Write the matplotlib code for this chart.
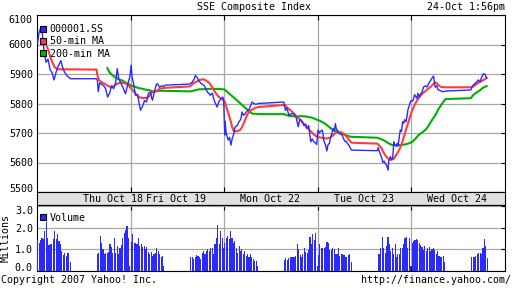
import matplotlib
matplotlib.use("Agg")
import matplotlib.pyplot as plt
from matplotlib.lines import Line2D

plt.rcParams['font.family'] = ['DejaVu Sans Mono', 'DejaVu Sans']
plt.rcParams['font.size'] = 7.2

# ---------------- data ----------------
# time axis: minutes since Thu 18 Oct 9:30, each trading day = 330 min (9:30-15:00 incl. lunch)
DAY_MIN = 330
day_labels = ["Thu Oct 18", "Fri Oct 19", "Mon Oct 22", "Tue Oct 23", "Wed Oct 24"]
day_label_t = [268, 490, 823, 1154, 1481]

price_t = [2, 7, 14, 19, 25, 32, 39, 46, 53, 60, 67, 74, 84, 91, 98, 105, 118, 210, 213, 216,
           221, 228, 235, 242, 249, 256, 263, 270, 277, 283, 288, 295, 305, 312, 319, 328, 332, 335, 340, 347,
           355, 360, 365, 372, 379, 386, 393, 400, 404, 407, 414, 421, 425, 432, 439, 446, 452, 538, 548, 555,
           558, 565, 572, 579, 590, 600, 611, 618, 625, 635, 642, 649, 655, 658, 662, 663, 667, 674, 679, 684,
           688, 695, 698, 706, 713, 718, 723, 728, 734, 741, 748, 758, 765, 772, 780, 870, 873, 876, 881, 888,
           895, 906, 913, 921, 926, 930, 934, 941, 948, 951, 958, 962, 965, 970, 976, 983, 986, 991, 996, 999,
           1005, 1008, 1011, 1017, 1022, 1026, 1031, 1035, 1040, 1044, 1048, 1052, 1055, 1059, 1064, 1071, 1075, 1081, 1087, 1091,
           1094, 1099, 1105, 1110, 1200, 1203, 1206, 1210, 1216, 1219, 1224, 1227, 1232, 1238, 1240, 1246, 1250, 1254, 1258, 1261,
           1266, 1270, 1273, 1278, 1281, 1285, 1289, 1293, 1296, 1301, 1305, 1308, 1313, 1316, 1320, 1324, 1328, 1331, 1336, 1340,
           1343, 1348, 1351, 1357, 1363, 1369, 1375, 1378, 1383, 1388, 1392, 1398, 1402, 1404, 1410, 1413, 1418, 1423, 1429, 1440,
           1530, 1533, 1538, 1544, 1550, 1556, 1562, 1568, 1574, 1580, 1585]
price_v = [6005, 6040, 6058, 6035, 5975, 5940, 5950, 5915, 5905, 5880, 5905, 5925, 5945, 5920, 5905, 5895, 5884, 5884, 5878, 5840,
           5870, 5865, 5860, 5850, 5822, 5835, 5860, 5850, 5870, 5918, 5885, 5870, 5850, 5833, 5860, 5895, 5930, 5890, 5870, 5828,
           5830, 5800, 5777, 5790, 5810, 5805, 5835, 5839, 5820, 5811, 5840, 5865, 5867, 5855, 5860, 5858, 5862, 5866, 5873, 5885,
           5895, 5888, 5875, 5868, 5860, 5840, 5828, 5835, 5810, 5788, 5808, 5815, 5822, 5812, 5693, 5740, 5700, 5676, 5685, 5659,
           5680, 5700, 5720, 5725, 5740, 5745, 5771, 5760, 5765, 5775, 5780, 5805, 5800, 5797, 5800, 5805, 5790, 5777, 5785, 5760,
           5765, 5765, 5755, 5721, 5745, 5745, 5740, 5725, 5730, 5715, 5725, 5693, 5670, 5680, 5670, 5665, 5661, 5710, 5700, 5705,
           5710, 5700, 5675, 5660, 5639, 5660, 5665, 5685, 5700, 5715, 5705, 5732, 5715, 5710, 5700, 5695, 5695, 5680, 5670, 5672,
           5665, 5660, 5648, 5642, 5640, 5650, 5640, 5630, 5614, 5600, 5605, 5597, 5592, 5574, 5605, 5620, 5610, 5614, 5670, 5660,
           5655, 5665, 5655, 5693, 5710, 5705, 5738, 5733, 5745, 5738, 5760, 5780, 5794, 5805, 5810, 5808, 5817, 5830, 5823, 5817,
           5835, 5822, 5830, 5838, 5856, 5860, 5856, 5862, 5872, 5878, 5885, 5893, 5868, 5855, 5860, 5848, 5845, 5843, 5840, 5842,
           5846, 5855, 5862, 5868, 5873, 5880, 5873, 5890, 5901, 5898, 5886]

ma50_t = [35, 42, 49, 56, 63, 74, 210, 212, 218, 228, 239, 249, 260, 270, 281, 291, 305, 316, 326, 337,
          351, 358, 374, 390, 400, 407, 418, 432, 450, 540, 548, 558, 572, 583, 593, 607, 618, 628, 641, 653,
          663, 670, 677, 683, 688, 694, 706, 716, 723, 730, 740, 751, 769, 780, 870, 874, 881, 895, 906, 916,
          930, 941, 951, 965, 976, 987, 1004, 1021, 1035, 1046, 1052, 1064, 1074, 1088, 1106, 1110, 1200, 1204, 1216, 1221,
          1232, 1236, 1246, 1257, 1264, 1271, 1278, 1285, 1292, 1299, 1306, 1313, 1320, 1327, 1334, 1341, 1351, 1358, 1369, 1379,
          1390, 1398, 1404, 1411, 1418, 1425, 1440, 1530, 1537, 1544, 1555, 1565, 1579, 1585]
ma50_v = [5993, 5975, 5952, 5935, 5922, 5916, 5915, 5900, 5880, 5872, 5866, 5860, 5856, 5858, 5866, 5870, 5870, 5866, 5858, 5845,
          5830, 5822, 5818, 5820, 5830, 5839, 5840, 5850, 5853, 5858, 5866, 5872, 5879, 5882, 5880, 5870, 5855, 5838, 5822, 5815,
          5805, 5780, 5760, 5740, 5720, 5706, 5706, 5710, 5720, 5735, 5760, 5775, 5785, 5788, 5795, 5796, 5787, 5776, 5765, 5755,
          5743, 5731, 5720, 5706, 5695, 5687, 5684, 5681, 5685, 5694, 5700, 5703, 5702, 5692, 5670, 5667, 5664, 5660, 5647, 5635,
          5619, 5615, 5608, 5612, 5622, 5632, 5645, 5660, 5682, 5705, 5726, 5748, 5770, 5785, 5800, 5812, 5825, 5833, 5842, 5850,
          5858, 5867, 5872, 5867, 5860, 5856, 5855, 5855, 5857, 5862, 5870, 5875, 5882, 5887]

ma200_t = [248, 256, 267, 277, 288, 298, 309, 319, 330, 340, 351, 358, 372, 383, 397, 407, 432, 450, 540, 572,
           618, 642, 660, 670, 688, 706, 723, 741, 758, 780, 870, 888, 913, 930, 948, 969, 982, 993, 1004, 1018,
           1028, 1040, 1053, 1064, 1074, 1088, 1106, 1110, 1200, 1211, 1221, 1232, 1239, 1253, 1274, 1292, 1309, 1323, 1334, 1344,
           1358, 1369, 1379, 1390, 1404, 1415, 1425, 1440, 1530, 1537, 1551, 1562, 1572, 1585]
ma200_v = [5920, 5905, 5895, 5888, 5882, 5879, 5873, 5868, 5862, 5858, 5855, 5852, 5850, 5847, 5845, 5841, 5843, 5843, 5841, 5848,
           5850, 5849, 5848, 5840, 5825, 5810, 5795, 5780, 5766, 5764, 5764, 5758, 5756, 5757, 5756, 5752, 5747, 5743, 5738, 5730,
           5722, 5713, 5708, 5703, 5698, 5693, 5687, 5687, 5684, 5680, 5676, 5670, 5665, 5659, 5659, 5660, 5664, 5670, 5680, 5692,
           5702, 5710, 5722, 5740, 5760, 5780, 5795, 5815, 5818, 5828, 5838, 5845, 5853, 5859]

# 5-minute volume (millions) per trading session
session_start = [0, 210, 330, 540, 660, 870, 990, 1200, 1320, 1530]
vol_thu_am = [1.42, 1.30, 1.42, 1.54, 1.47, 1.85, 2.25, 1.54, 1.20, 1.24, 1.24, 1.47, 1.85, 1.47, 1.73, 1.39, 1.24, 0.93, 0.75, 0.85, 0.70, 0.85, 0.85, 0.40]
vol_thu_pm = [0.78, 0.85, 1.60, 1.30, 1.00, 0.80, 0.85, 0.82, 0.88, 1.24, 1.10, 0.85, 1.54, 0.85, 1.16, 0.80, 1.08, 1.20, 1.54, 1.77, 1.92, 2.10, 1.54, 0.25]
vol_fri_am = [1.35, 1.70, 1.28, 1.30, 1.27, 1.54, 1.16, 1.24, 1.10, 1.16, 1.00, 1.10, 0.90, 0.78, 0.90, 0.70, 0.78, 0.85, 1.08, 0.93, 0.80, 0.63, 0.70, 0.25]
vol_fri_pm = [0.63, 0.63, 0.55, 0.63, 0.75, 0.70, 0.65, 0.55, 0.85, 0.93, 0.80, 0.93, 1.04, 0.93, 1.08, 1.08, 0.80, 1.24, 1.54, 2.15, 1.24, 1.85, 1.54, 1.08]
vol_mon_am = [1.30, 1.54, 1.62, 1.47, 1.85, 1.54, 1.30, 1.39, 1.08, 0.85, 1.16, 0.93, 1.00, 0.78, 0.93, 0.70, 0.80, 0.63, 0.78, 0.63, 0.55, 0.47, 0.47, 0.25]
vol_mon_pm = [0.50, 0.58, 0.50, 0.58, 0.63, 0.63, 0.67, 0.67, 0.70, 1.24, 1.04, 0.73, 0.67, 0.80, 1.08, 0.90, 0.85, 0.96, 1.57, 1.24, 1.72, 1.42, 1.77, 0.25]
vol_tue_am = [0.75, 1.27, 1.05, 1.05, 1.08, 1.10, 1.36, 1.31, 0.96, 0.96, 1.05, 1.00, 0.80, 0.80, 1.05, 0.70, 0.80, 0.80, 0.75, 0.67, 0.67, 0.75, 0.80, 0.40]
vol_tue_pm = [0.80, 0.78, 1.05, 1.57, 1.05, 0.85, 1.16, 1.57, 1.24, 0.93, 1.08, 0.80, 1.27, 0.63, 0.78, 0.80, 1.05, 1.05, 1.27, 1.51, 1.57, 1.08, 1.54, 0.25]
vol_wed_am = [1.31, 1.39, 1.42, 1.47, 1.42, 1.31, 1.20, 1.10, 0.96, 1.16, 0.93, 1.08, 1.10, 0.93, 1.04, 1.08, 0.96, 0.78, 0.93, 0.70, 0.63, 0.63, 0.70, 0.40]
vol_wed_pm = [0.65, 0.65, 0.67, 0.70, 0.80, 0.85, 0.85, 0.80, 1.08, 1.47, 1.16, 0.60]
session_vols = [vol_thu_am, vol_thu_pm, vol_fri_am, vol_fri_pm, vol_mon_am,
                vol_mon_pm, vol_tue_am, vol_tue_pm, vol_wed_am, vol_wed_pm]

price_ticks = [5500, 5600, 5700, 5800, 5900, 6000, 6100]
vol_ticks = [0.0, 1.0, 2.0, 3.0]

# ---------------- style ----------------
BLUE = '#2b2bff'
RED = '#ff3b3b'
GREEN = '#00b000'
GRID = '#a8a8a8'
BAND = '#e0e0e0'
N_DAYS = 5
day_edges = [DAY_MIN * d for d in range(1, N_DAYS)]

W, H = 512, 288
fig = plt.figure(figsize=(W / 100, H / 100), dpi=100)
fig.patch.set_facecolor('white')
ax = fig.add_axes([37 / W, 96 / H, 468 / W, 177 / H])
band = fig.add_axes([37 / W, 83 / H, 468 / W, 13 / H])
axv = fig.add_axes([37 / W, 17 / H, 468 / W, 66 / H])

for a in (ax, band, axv):
    a.set_xlim(0, DAY_MIN * N_DAYS)
    for s in a.spines.values():
        s.set_linewidth(0.8)
        s.set_color('black')

# main price panel
ax.plot(ma200_t, ma200_v, color=GREEN, lw=1.5, zorder=3)
ax.plot(ma50_t, ma50_v, color=RED, lw=1.5, zorder=4)
ax.plot(price_t, price_v, color=BLUE, lw=1.0, zorder=5)
ax.set_ylim(price_ticks[0], price_ticks[-1])
ax.set_yticks(price_ticks, labels=[str(v) for v in price_ticks])
ax.set_xticks(day_edges)
ax.tick_params(axis='x', which='both', bottom=True, top=True, direction='in', length=3.6,
               width=0.8, labelbottom=False)
ax.tick_params(axis='y', left=False, right=True, direction='in', length=3, width=0.8,
               pad=3, labelsize=7.2)
ax.grid(True, color=GRID, lw=0.9)
ax.set_axisbelow(True)
for lbl in ax.get_yticklabels():
    if lbl.get_text() == '6100':
        lbl.set_va('top')
    elif lbl.get_text() == '5500':
        lbl.set_va('baseline')

handles = [Line2D([], [], ls='', marker='s', ms=5, mfc=c, mec='black', mew=0.8)
           for c in (BLUE, RED, GREEN)]
ax.legend(handles, ['000001.SS', '50-min MA', '200-min MA'], loc='upper left',
          bbox_to_anchor=(0.004, 0.948), frameon=False, borderpad=0, borderaxespad=0,
          handlelength=0.8, handletextpad=0.3, labelspacing=0.22, fontsize=7.2)

# date band
band.set_facecolor(BAND)
band.set_ylim(0, 1)
band.set_xticks([])
band.set_yticks([])
for lab, t in zip(day_labels, day_label_t):
    band.text(t, 0.45, lab, ha='center', va='center', fontsize=7.2)

# volume panel
for start, vols in zip(session_start, session_vols):
    ts = [start + 5 * i + 2.5 for i in range(len(vols))]
    axv.bar(ts, vols, width=4.0, color=BLUE, linewidth=0, zorder=3, antialiased=False)
axv.set_ylim(0, 3.06)
axv.set_yticks(vol_ticks, labels=[f'{v:.1f}' for v in vol_ticks])
axv.set_xticks(day_edges)
axv.tick_params(axis='x', which='both', bottom=True, top=True, direction='in', length=3.6,
                width=0.8, labelbottom=False)
axv.tick_params(axis='y', left=False, right=True, direction='in', length=3, width=0.8,
                pad=3, labelsize=7.2)
axv.grid(True, color=GRID, lw=0.9)
axv.set_axisbelow(True)
for lbl in axv.get_yticklabels():
    if lbl.get_text() == '3.0':
        lbl.set_va('top')
    elif lbl.get_text() == '0.0':
        lbl.set_va('baseline')
axv.set_ylabel('Millions', fontsize=7.2, labelpad=3)
vh = [Line2D([], [], ls='', marker='s', ms=5, mfc=BLUE, mec='black', mew=0.8)]
axv.legend(vh, ['Volume'], loc='upper left', bbox_to_anchor=(0.004, 0.88), frameon=False,
           borderpad=0, borderaxespad=0, handlelength=0.8, handletextpad=0.3, fontsize=7.2)

# header / footer text
fig.text(254 / W, 1 - 7.5 / H, 'SSE Composite Index', ha='center', va='center', fontsize=7.2)
fig.text(505 / W, 1 - 7.5 / H, '24-Oct 1:56pm', ha='right', va='center', fontsize=7.2)
fig.text(1 / W, 8 / H, 'Copyright 2007 Yahoo! Inc.', ha='left', va='center', fontsize=7.2)
fig.text(511 / W, 8 / H, 'http://finance.yahoo.com/', ha='right', va='center', fontsize=7.2)

fig.savefig('out.png', dpi=100, facecolor='white')
